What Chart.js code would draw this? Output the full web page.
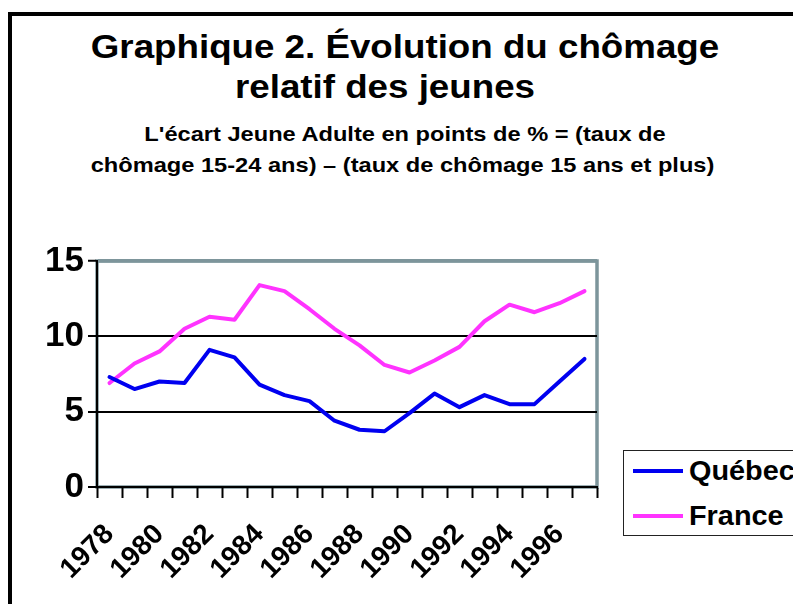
<!DOCTYPE html>
<html lang="fr">
<head>
<meta charset="utf-8">
<title>Graphique 2</title>
<script src="https://cdn.jsdelivr.net/npm/chart.js@4.4.1/dist/chart.umd.min.js"></script>
<style>
    html, body { margin: 0; padding: 0; width: 793px; height: 604px; overflow: hidden; background: #fff; }
    body { position: relative; font-family: "Liberation Sans", Arial, sans-serif; font-weight: bold; color: #000; }
    .cadre { position: absolute; left: 8px; top: 12px; width: 900px; height: 700px; border: 4px solid #000; }
    .ligne { position: absolute; white-space: nowrap; text-align: center; transform-origin: 50% 50%; }
    .titre { font-size: 34px; line-height: 34px; transform: scaleX(1.08); }
    .soustitre { font-size: 21px; line-height: 21px; transform: scaleX(1.125); }
    #graphique { position: absolute; left: 0; top: 0; }
    .legende { position: absolute; left: 623px; top: 450px; width: 220px; height: 84px; border: 1.5px solid #222; background: #fff; }
    .item { position: absolute; left: 0; height: 30px; font-size: 28px; line-height: 30px; }
    .item span.trait { position: absolute; left: 9px; top: 13px; width: 50px; height: 4px; }
    .item span.nom { position: absolute; left: 65px; top: 0; transform: scaleX(1.03); transform-origin: 0 50%; }
</style>
</head>
<body>
<div class="cadre"></div>
<div class="ligne titre" style="left:0; width:810px; top:29px;">Graphique 2. Évolution du chômage</div>
<div class="ligne titre" style="left:0; width:770px; top:69px;">relatif des jeunes</div>
<div class="ligne soustitre" style="left:0; width:810px; top:123px;">L'écart Jeune Adulte en points de % = (taux de</div>
<div class="ligne soustitre" style="left:0; width:805px; top:154px;">chômage 15-24 ans) – (taux de chômage 15 ans et plus)</div>
<canvas id="graphique" width="793" height="604"></canvas>
<div class="legende" id="legende"></div>
<script>
// Données
const annees = ['1978', '1979', '1980', '1981', '1982', '1983', '1984', '1985', '1986', '1987',
                '1988', '1989', '1990', '1991', '1992', '1993', '1994', '1995', '1996', '1997'];
const quebec = [7.3, 6.5, 7.0, 6.9, 9.1, 8.6, 6.8, 6.1, 5.7, 4.4,
                3.8, 3.7, 4.9, 6.2, 5.3, 6.1, 5.5, 5.5, 7.0, 8.5];
const france = [6.9, 8.2, 9.0, 10.5, 11.3, 11.1, 13.4, 13.0, 11.8, 10.5,
                9.4, 8.1, 7.6, 8.4, 9.3, 11.0, 12.1, 11.6, 12.2, 13.0];
const graduations = [0, 5, 10, 15];

const GRIS = '#7d959b';

// Cadre gris du graphique (haut et droite)
const cadreGris = {
    id: 'cadreGris',
    beforeDraw(chart) {
        const a = chart.chartArea;
        const ctx = chart.ctx;
        ctx.save();
        ctx.strokeStyle = GRIS;
        ctx.lineWidth = 3.5;
        ctx.strokeRect(a.left, a.top, a.right - a.left, a.bottom - a.top);
        ctx.restore();
    }
};

function creerGraphique() {
    const ctx = document.getElementById('graphique').getContext('2d');
    const chart = new Chart(ctx, {
        type: 'line',
        data: {
            labels: annees,
            datasets: [
                { label: 'Québec', data: quebec, borderColor: '#0000f0', borderWidth: 4 },
                { label: 'France', data: france, borderColor: '#ff33ff', borderWidth: 4 }
            ]
        },
        options: {
            responsive: false,
            animation: false,
            devicePixelRatio: 1,
            elements: {
                point: { radius: 0 },
                line: { tension: 0, borderCapStyle: 'round', borderJoinStyle: 'round' }
            },
            layout: { padding: { top: 261, right: 196, left: 0, bottom: 0 } },
            plugins: {
                legend: { display: false },
                tooltip: { enabled: false }
            },
            scales: {
                x: {
                    offset: true,
                    afterFit: scale => { scale.height = 117; },
                    grid: {
                        offset: true,
                        drawOnChartArea: false,
                        tickLength: 11,
                        tickColor: '#000',
                        tickWidth: 2
                    },
                    border: { color: '#000', width: 2 },
                    ticks: {
                        autoSkip: false,
                        minRotation: 45,
                        maxRotation: 45,
                        padding: 20,
                        color: '#000',
                        font: { family: 'Liberation Sans', size: 28, weight: 'bold' },
                        callback: function(value, index) {
                            return index % 2 === 0 ? annees[index] : '';
                        }
                    }
                },
                y: {
                    min: 0,
                    max: 15,
                    afterFit: scale => { scale.width = 97; },
                    afterBuildTicks: scale => { scale.ticks = graduations.map(v => ({ value: v })); },
                    grid: {
                        color: c => (c.tick && c.tick.value === 15 ? GRIS : '#000'),
                        lineWidth: c => (c.tick && c.tick.value === 15 ? 3.5 : 2),
                        tickLength: 9,
                        tickColor: '#000',
                        tickWidth: 2
                    },
                    border: { color: '#000', width: 2 },
                    ticks: {
                        padding: 4,
                        color: '#000',
                        font: { family: 'Liberation Sans', size: 35, weight: 'bold' }
                    }
                }
            }
        },
        plugins: [cadreGris]
    });
    return chart;
}

// Légende construite à partir des séries
function creerLegende(chart) {
    const boite = document.getElementById('legende');
    chart.data.datasets.forEach((ds, i) => {
        const item = document.createElement('div');
        item.className = 'item';
        item.style.top = (5 + i * 45) + 'px';
        item.innerHTML = '<span class="trait" style="background:' + ds.borderColor + '"></span>' +
                         '<span class="nom">' + ds.label + '</span>';
        boite.appendChild(item);
    });
}

document.addEventListener('DOMContentLoaded', function() {
    const chart = creerGraphique();
    creerLegende(chart);
});
</script>
</body>
</html>
